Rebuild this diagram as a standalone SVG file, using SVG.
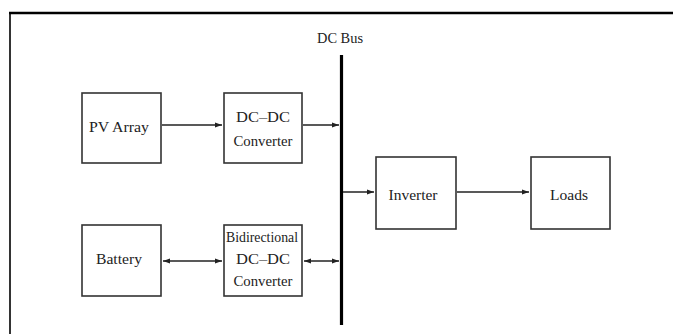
<svg xmlns="http://www.w3.org/2000/svg" width="673" height="334" viewBox="0 0 673 334">
<style>
.box{fill:#fff;stroke:#333;stroke-width:1.6}
.t{font-family:"Liberation Serif","Times New Roman",serif;font-size:14.5px;fill:#222;text-anchor:middle}
.c{stroke:#222;stroke-width:1.5;fill:none}
</style>
<defs>
<marker id="ah" markerWidth="8" markerHeight="6" refX="7" refY="3" orient="auto-start-reverse" markerUnits="userSpaceOnUse">
<path d="M0,0.5 L7,3 L0,5.5 Z" fill="#222"/>
</marker>
</defs>
<rect x="0" y="0" width="673" height="334" fill="#fff"/>
<g id="frame">
<line x1="9" y1="13" x2="673" y2="13" stroke="#000" stroke-width="2.5"/>
<line x1="10" y1="12" x2="10" y2="334" stroke="#000" stroke-width="1.6"/>
</g>
<g id="dcbus">
<line x1="341.5" y1="55" x2="341.5" y2="325" stroke="#000" stroke-width="3.2"/>
<text class="t" x="340" y="43" textLength="46" lengthAdjust="spacingAndGlyphs">DC Bus</text>
</g>
<g id="pv">
<rect class="box" x="82" y="93" width="79" height="70"/>
<text class="t" x="119" y="132" textLength="60" lengthAdjust="spacingAndGlyphs">PV Array</text>
</g>
<g id="dcdc">
<rect class="box" x="224" y="93" width="78" height="70"/>
<text class="t" x="263" y="122" textLength="54" lengthAdjust="spacingAndGlyphs">DC–DC</text>
<text class="t" x="263" y="146" textLength="59" lengthAdjust="spacingAndGlyphs">Converter</text>
</g>
<g id="battery">
<rect class="box" x="82" y="225" width="79" height="71"/>
<text class="t" x="119" y="264" textLength="46" lengthAdjust="spacingAndGlyphs">Battery</text>
</g>
<g id="bidir">
<rect class="box" x="224" y="225" width="78" height="71"/>
<text class="t" x="262" y="242" textLength="72" lengthAdjust="spacingAndGlyphs">Bidirectional</text>
<text class="t" x="263" y="264" textLength="54" lengthAdjust="spacingAndGlyphs">DC–DC</text>
<text class="t" x="263" y="286" textLength="59" lengthAdjust="spacingAndGlyphs">Converter</text>
</g>
<g id="inverter">
<rect class="box" x="376" y="157" width="80" height="72"/>
<text class="t" x="413" y="200" textLength="49" lengthAdjust="spacingAndGlyphs">Inverter</text>
</g>
<g id="loads">
<rect class="box" x="531" y="157" width="79" height="72"/>
<text class="t" x="569" y="200" textLength="38" lengthAdjust="spacingAndGlyphs">Loads</text>
</g>
<g id="connectors">
<line class="c" x1="162" y1="125" x2="222" y2="125" marker-end="url(#ah)"/>
<line class="c" x1="303" y1="125" x2="339" y2="125" marker-end="url(#ah)"/>
<line class="c" x1="343" y1="192" x2="374" y2="192" marker-end="url(#ah)"/>
<line class="c" x1="457" y1="192" x2="529" y2="192" marker-end="url(#ah)"/>
<line class="c" x1="163" y1="261" x2="222" y2="261" marker-start="url(#ah)" marker-end="url(#ah)"/>
<line class="c" x1="304" y1="261" x2="339" y2="261" marker-start="url(#ah)" marker-end="url(#ah)"/>
</g>
</svg>
